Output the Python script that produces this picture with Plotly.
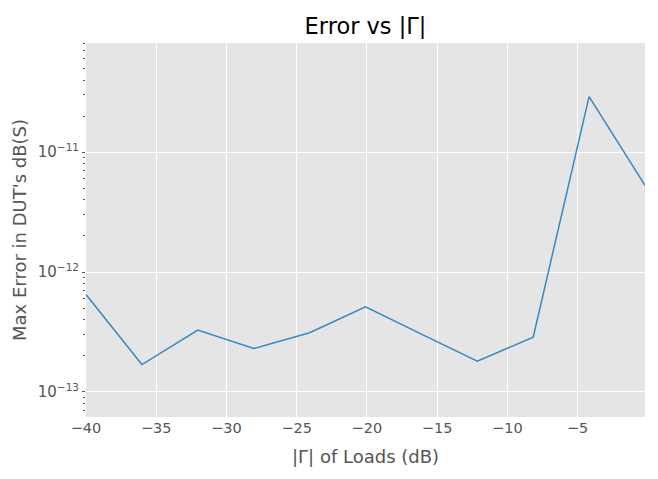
import plotly.graph_objects as go

# Data
gamma_db = [-40.0, -36.02, -32.04, -28.06, -24.08, -20.1, -16.12, -12.14, -8.16, -4.18, -0.2]
max_error = [6.48e-13, 1.69e-13, 3.28e-13, 2.30e-13, 3.11e-13, 5.11e-13, 3.03e-13,
             1.80e-13, 2.86e-13, 2.91e-11, 5.28e-12]
x_ticks = [-40, -35, -30, -25, -20, -15, -10, -5]
y_ticks = [1e-13, 1e-12, 1e-11]
y_ticktext = ["10<sup>\u221213</sup>", "10<sup>\u221212</sup>", "10<sup>\u221211</sup>"]

FONT = "DejaVu Sans"
GREY = "#555555"

fig = go.Figure()
fig.add_trace(go.Scatter(
    x=gamma_db, y=max_error, mode="lines",
    line=dict(color="#348ABD", width=1.5),
    showlegend=False, hoverinfo="x+y",
))

fig.update_layout(
    width=658, height=479,
    margin=dict(l=86, r=13, t=43, b=62),
    paper_bgcolor="white",
    plot_bgcolor="#E5E5E5",
    font=dict(family=FONT, color=GREY, size=15),
    title=dict(text="Error vs |\u0393|", x=0.5555, xanchor="center",
               y=1 - 26 / 479, yanchor="middle", yref="container",
               font=dict(family=FONT, size=22.5, color="black")),
    xaxis=dict(
        range=[-40, -0.2], tickmode="array", tickvals=x_ticks,
        showgrid=True, gridcolor="white", gridwidth=1.3,
        zeroline=False, showline=False, ticks="",
        tickfont=dict(family=FONT, size=14.5, color=GREY),
    ),
    yaxis=dict(
        type="log", range=[-13.21, -10.089],
        tickmode="array", tickvals=y_ticks, ticktext=y_ticktext,
        showgrid=True, gridcolor="white", gridwidth=1.3,
        zeroline=False, showline=False,
        ticks="outside", ticklen=3, tickcolor=GREY, tickwidth=1,
        tickfont=dict(family=FONT, size=15, color=GREY),
        minor=dict(ticks="outside", ticklen=2, tickcolor=GREY, tickwidth=1,
                   showgrid=False, dtick="D1"),
    ),
    annotations=[
        dict(text="|\u0393| of Loads (dB)", xref="paper", yref="paper",
             x=0.5, y=-0.105, xanchor="center", yanchor="middle", showarrow=False,
             font=dict(family=FONT, size=18, color=GREY)),
        dict(text="Max Error in DUT's dB(S)", xref="paper", yref="paper",
             x=-0.1199, y=0.5, xanchor="center", yanchor="middle", showarrow=False,
             textangle=-90, font=dict(family=FONT, size=18, color=GREY)),
    ],
)

fig.write_html("out.html")
